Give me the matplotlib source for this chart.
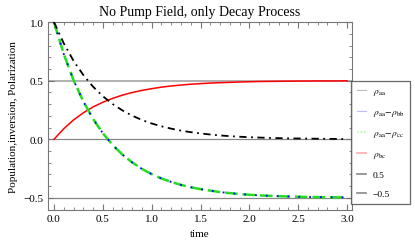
import matplotlib
matplotlib.use("Agg")
import matplotlib.pyplot as plt
from matplotlib.lines import Line2D
from matplotlib.ticker import MultipleLocator

plt.rcParams["font.family"] = ["Liberation Serif", "DejaVu Serif"]
plt.rcParams["mathtext.fontset"] = "stix"

# values
t = [0.0, 0.1, 0.2, 0.3, 0.4, 0.5, 0.6, 0.7, 0.8, 0.9, 1.0, 1.1, 1.2, 1.3, 1.4, 1.5,
     1.6, 1.7, 1.8, 1.9, 2.0, 2.1, 2.2, 2.3, 2.4, 2.5, 2.6, 2.7, 2.8, 2.9, 3.0]
rho_aa = [1.0, 0.819, 0.670, 0.549, 0.449, 0.368, 0.301, 0.247, 0.202, 0.165, 0.135,
          0.111, 0.091, 0.074, 0.061, 0.050, 0.041, 0.033, 0.027, 0.022, 0.018, 0.015,
          0.012, 0.010, 0.008, 0.007, 0.006, 0.005, 0.004, 0.003, 0.002]
inv_ab = [1.0, 0.728, 0.505, 0.324, 0.174, 0.052, -0.048, -0.130, -0.197, -0.252, -0.297,
          -0.334, -0.364, -0.389, -0.409, -0.425, -0.438, -0.450, -0.459, -0.467, -0.473,
          -0.478, -0.482, -0.485, -0.488, -0.490, -0.492, -0.493, -0.494, -0.495, -0.496]
inv_ac = inv_ab
rho_bc = [0.0, 0.090, 0.165, 0.226, 0.276, 0.316, 0.349, 0.377, 0.399, 0.417, 0.432,
          0.445, 0.455, 0.463, 0.470, 0.475, 0.480, 0.483, 0.486, 0.489, 0.491, 0.493,
          0.494, 0.495, 0.496, 0.497, 0.497, 0.498, 0.498, 0.498, 0.499]
levels = [0.5, -0.5]
labels = [r"$\rho_{\rm aa}$", r"$\rho_{\rm aa}\!-\!\rho_{\rm bb}$",
          r"$\rho_{\rm aa}\!-\!\rho_{\rm cc}$", r"$\rho_{\rm bc}$", "0.5", "\u22120.5"]

fig = plt.figure(figsize=(4.15, 2.51), dpi=100)
ax = fig.add_axes([0.1157, 0.1594, 0.7323, 0.7486])

ax.axhline(levels[0], color="#aaaaaa", lw=1.3, zorder=1)
ax.axhline(0.0, color="#888888", lw=0.9, zorder=1)
ax.axhline(levels[1], color="#888888", lw=0.9, zorder=1)

ax.plot(t, rho_bc, color="red", lw=1.1, zorder=3)
ax.plot(t, inv_ac, color="#22dd22", lw=1.8, dashes=(5, 2), zorder=3)
ax.plot(t, inv_ab, color="blue", lw=1.3, dashes=(1, 5), zorder=4)
ax.plot(t, rho_aa, color="black", lw=1.3, dashes=(4, 2.5, 1, 2.5), zorder=4)

ax.set_xlim(-0.061, 3.05)
ax.set_ylim(-0.603, 1.0)
ax.xaxis.set_major_locator(MultipleLocator(0.5))
ax.xaxis.set_minor_locator(MultipleLocator(0.1))
ax.yaxis.set_major_locator(MultipleLocator(0.5))
ax.yaxis.set_minor_locator(MultipleLocator(0.1))
fmt = plt.FuncFormatter(lambda v, p: f"{v:.1f}".replace("-", "\u2212"))
ax.xaxis.set_major_formatter(fmt)
ax.yaxis.set_major_formatter(fmt)
ax.tick_params(which="both", direction="in", top=True, right=True, color="#777777",
               labelsize=8, pad=3)
ax.tick_params(which="major", length=4)
ax.tick_params(which="minor", length=2)
for s in ax.spines.values():
    s.set_color("#777777")
    s.set_linewidth(0.8)

ax.set_title("No Pump Field, only Decay Process", fontsize=10, pad=5)
ax.set_xlabel("time", fontsize=8, labelpad=4)
ax.set_ylabel("Population,inversion, Polarization", fontsize=8, labelpad=4)

handles = [
    Line2D([], [], color="#bbbbbb", lw=0.8),
    Line2D([], [], color="#bbbbff", lw=0.8),
    Line2D([], [], color="#aaffaa", lw=1.2, dashes=(1, 1)),
    Line2D([], [], color="#ffbbbb", lw=1.5),
    Line2D([], [], color="#888888", lw=1.2),
    Line2D([], [], color="#888888", lw=1.2),
]
leg = fig.legend(handles, labels, loc="upper left", bbox_to_anchor=(0.846, 0.675),
                 fontsize=6.8, frameon=True, fancybox=False, handlelength=1.0,
                 handletextpad=0.7, labelspacing=1.1, borderpad=0.6, borderaxespad=0)
leg.get_frame().set_edgecolor("#444444")
leg.get_frame().set_linewidth(0.9)

fig.savefig("out.png", dpi=100)
